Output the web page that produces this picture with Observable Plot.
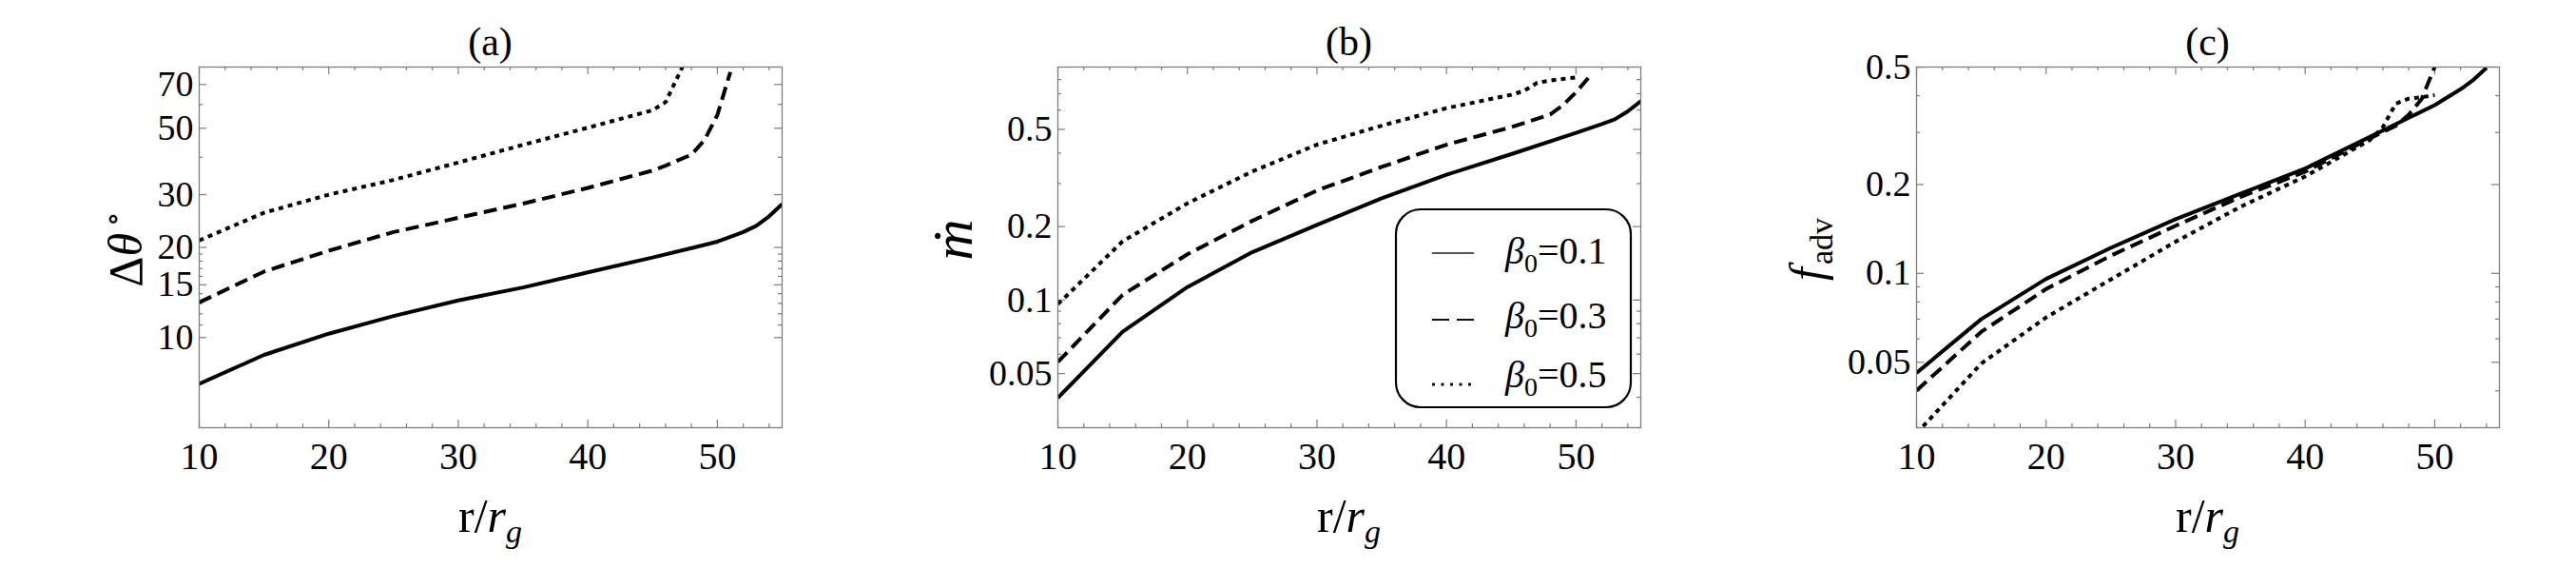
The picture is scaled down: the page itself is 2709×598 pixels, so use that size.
<!DOCTYPE html>
<html>
<head>
<meta charset="utf-8">
<script src="https://cdn.jsdelivr.net/npm/d3@7"></script>
<script src="https://cdn.jsdelivr.net/npm/@observablehq/plot@0.6"></script>
<style>
  html, body { margin: 0; padding: 0; background: #fff; }
  #row { display: flex; width: 2709px; height: 598px; }
  #row svg { display: block; flex: none; }
</style>
</head>
<body>
<div id="row"></div>
<script>
// Radius grid ticks (r / r_g)
const xMajor = [10, 20, 30, 40, 50];
const xMinor = [12, 14, 16, 18, 22, 24, 26, 28, 32, 34, 36, 38, 42, 44, 46, 48, 52, 54];

// Plasma beta values of the three solutions
const betaValues = ["0.1", "0.3", "0.5"];

// (a) opening angle Δθ in degrees
const yMajorA = [10, 15, 20, 30, 50, 70];
const yMinorA = [11, 12, 13, 14, 16, 17, 18, 19, 40, 60];
const rA1 = [10, 15, 20, 25, 30, 35, 40, 45, 48, 50, 52, 53, 54, 55];
const thetaA1 = [7.0, 8.75, 10.3, 11.8, 13.3, 14.7, 16.5, 18.5, 19.9, 20.9, 22.5, 23.6, 25.4, 27.9];
const rA3 = [10, 15, 20, 25, 30, 35, 40, 45, 46, 48, 49, 50, 51];
const thetaA3 = [13.1, 16.6, 19.5, 22.5, 25.1, 28.0, 31.6, 36.1, 37.5, 40.8, 45.6, 55.3, 77];
const rA5 = [10, 15, 20, 25, 30, 35, 40, 45, 46, 47.3];
const thetaA5 = [21.1, 26.1, 30.0, 33.6, 38.4, 44.0, 50.2, 57.4, 61.1, 80];

// (b) accretion rate ṁ
const yMajorB = [0.05, 0.1, 0.2, 0.5];
const yMinorB = [0.03, 0.04, 0.06, 0.07, 0.08, 0.09, 0.3, 0.4, 0.6, 0.7, 0.8];
const rB1 = [10, 15, 20, 25, 30, 35, 40, 45, 50, 52, 53, 54, 55];
const mdotB1 = [0.0398, 0.0742, 0.113, 0.157, 0.203, 0.261, 0.326, 0.396, 0.484, 0.526, 0.55, 0.593, 0.652];
const rB3 = [10, 15, 20, 25, 30, 35, 40, 45, 48, 49, 50, 51];
const mdotB3 = [0.0558, 0.105, 0.154, 0.211, 0.281, 0.351, 0.433, 0.511, 0.575, 0.629, 0.71, 0.819];
const rB5 = [10, 15, 20, 25, 30, 35, 40, 45, 46, 47, 48, 50];
const mdotB5 = [0.0962, 0.174, 0.249, 0.336, 0.433, 0.518, 0.611, 0.693, 0.72, 0.776, 0.793, 0.817];

// (c) advection factor f_adv
const yMajorC = [0.05, 0.1, 0.2, 0.5];
const yMinorC = [0.03, 0.04, 0.06, 0.07, 0.08, 0.09, 0.3, 0.4];
const rC1 = [10, 15, 20, 25, 30, 35, 40, 45, 48, 50, 52, 53, 54];
const fC1 = [0.046, 0.070, 0.0958, 0.122, 0.1526, 0.186, 0.2266, 0.290, 0.3367, 0.3716, 0.4207, 0.453, 0.497];
const rC3 = [10, 15, 20, 25, 30, 35, 40, 45, 46, 47, 48, 49, 50];
const fC3 = [0.0401, 0.0634, 0.0885, 0.1148, 0.145, 0.1814, 0.221, 0.2866, 0.301, 0.316, 0.345, 0.39, 0.5];
const rC5 = [10, 15, 20, 25, 30, 35, 40, 45, 46, 47, 48, 49, 50];
const fC5 = [0.0287, 0.0495, 0.0709, 0.0954, 0.128, 0.168, 0.213, 0.283, 0.313, 0.376, 0.391, 0.395, 0.402];

// Styling
const SERIF = "'Liberation Serif', 'Times New Roman', 'DejaVu Serif', serif";
const FRAME_GRAY = "#7d7d7d";
const lineDash = [null, "14,7", "5,5"];
const W = 903, H = 598, MT = 70, MB = 149, ML = 209, MR = 81;
const PW = W - ML - MR, PH = H - MT - MB;

const rows = (r, v) => r.map((d, i) => ({r: d, v: v[i]}));

function addText(svg, {x, y, rotate = 0, size, anchor = "middle", parts}) {
  const t = svg.append("text")
    .attr("transform", `translate(${x},${y})` + (rotate ? ` rotate(${rotate})` : ""))
    .attr("text-anchor", anchor)
    .attr("font-family", SERIF)
    .attr("font-size", size)
    .attr("fill", "black");
  for (const p of parts) {
    const s = t.append("tspan").text(p.text);
    if (p.italic) s.attr("font-style", "italic");
    if (p.size) s.attr("font-size", p.size);
    if (p.dx) s.attr("dx", p.dx);
    if (p.dy) s.attr("dy", p.dy);
  }
  return t;
}

function makePanel(cfg) {
  const tick = {stroke: FRAME_GRAY, strokeWidth: 1.2};
  const marks = [
    // inward frame ticks on all four sides
    Plot.ruleX(xMajor, {...tick, insetTop: PH - 8}),
    Plot.ruleX(xMajor, {...tick, insetBottom: PH - 8}),
    Plot.ruleX(xMinor, {...tick, insetTop: PH - 4}),
    Plot.ruleX(xMinor, {...tick, insetBottom: PH - 4}),
    Plot.ruleY(cfg.yMajor, {...tick, insetRight: PW - 8}),
    Plot.ruleY(cfg.yMajor, {...tick, insetLeft: PW - 8}),
    Plot.ruleY(cfg.yMinor, {...tick, insetRight: PW - 4}),
    Plot.ruleY(cfg.yMinor, {...tick, insetLeft: PW - 4}),
  ];
  cfg.series.forEach(([r, v], i) => {
    marks.push(Plot.line(rows(r, v), {
      x: "r", y: "v", stroke: "black", strokeWidth: 4,
      strokeDasharray: lineDash[i], strokeLinecap: "butt", strokeLinejoin: "miter",
      clip: true
    }));
  });
  marks.push(
    Plot.frame({stroke: FRAME_GRAY, strokeWidth: 1.3}),
    Plot.axisX(xMajor, {tickSize: 0, tickPadding: 15, label: null, fontSize: 40}),
    Plot.axisY(cfg.yMajor, {tickSize: 0, tickPadding: 6, label: null, fontSize: 38, tickFormat: d => String(d)})
  );
  const node = Plot.plot({
    width: W, height: H,
    marginTop: MT, marginBottom: MB, marginLeft: ML, marginRight: MR,
    x: {domain: [10, 55]},
    y: {type: "log", domain: cfg.yDomain},
    style: {fontFamily: SERIF, fontSize: "40px", color: "black", background: "white", overflow: "visible"},
    marks
  });
  const svg = d3.select(node);
  const cx = ML + PW / 2;
  addText(svg, {x: cx, y: 58, size: 42, parts: [{text: cfg.title}]});
  addText(svg, {x: cx, y: 559, size: 50, parts: [
    {text: "r/"}, {text: "r", italic: true}, {text: "g", italic: true, size: 34, dy: 11}
  ]});
  addText(svg, {x: cfg.yLabelX, y: cfg.yLabelY, rotate: -90, size: cfg.yLabelSize || 50, parts: cfg.yLabel});
  return node;
}

const row = document.getElementById("row");

row.append(makePanel({
  title: "(a)",
  yDomain: [5, 80], yMajor: yMajorA, yMinor: yMinorA,
  series: [[rA1, thetaA1], [rA3, thetaA3], [rA5, thetaA5]],
  yLabelX: 149, yLabelY: 262,
  yLabel: [{text: "Δ"}, {text: "θ", italic: true}, {text: "∘", size: 32, dx: 7, dy: -20}]
}));

const panelB = makePanel({
  title: "(b)",
  yDomain: [0.03, 0.9], yMajor: yMajorB, yMinor: yMinorB,
  series: [[rB1, mdotB1], [rB3, mdotB3], [rB5, mdotB5]],
  yLabelX: 119, yLabelY: 252, yLabelSize: 60,
  yLabel: [{text: "ṁ", italic: true}]
});
row.append(panelB);

// legend box of panel (b)
{
  const svg = d3.select(panelB);
  const g = svg.append("g");
  g.append("rect").attr("x", 565).attr("y", 220).attr("width", 247).attr("height", 208)
    .attr("rx", 26).attr("fill", "white").attr("stroke", "black").attr("stroke-width", 2.2);
  const sampleY = [266, 336, 404];
  const textY = [277, 345, 407];
  const sampleStyle = [
    {stroke: "#555", width: 1.8, dash: null},
    {stroke: "#111", width: 2.2, dash: "18,8"},
    {stroke: "#111", width: 3, dash: "3,6.5"}
  ];
  betaValues.forEach((b, i) => {
    const s = sampleStyle[i];
    const ln = g.append("line").attr("x1", 603).attr("x2", 647)
      .attr("y1", sampleY[i]).attr("y2", sampleY[i])
      .attr("stroke", s.stroke).attr("stroke-width", s.width);
    if (s.dash) ln.attr("stroke-dasharray", s.dash);
    addText(g, {x: 680, y: textY[i], size: 40, anchor: "start", parts: [
      {text: "β", italic: true}, {text: "0", size: 28, dy: 9}, {text: "=" + b, dy: -9}
    ]});
  });
}

row.append(makePanel({
  title: "(c)",
  yDomain: [0.03, 0.5], yMajor: yMajorC, yMinor: yMinorC,
  series: [[rC1, fC1], [rC3, fC3], [rC5, fC5]],
  yLabelX: 111, yLabelY: 262,
  yLabel: [{text: "f", italic: true}, {text: "adv", size: 34, dx: 3, dy: 10}]
}));
</script>
</body>
</html>
